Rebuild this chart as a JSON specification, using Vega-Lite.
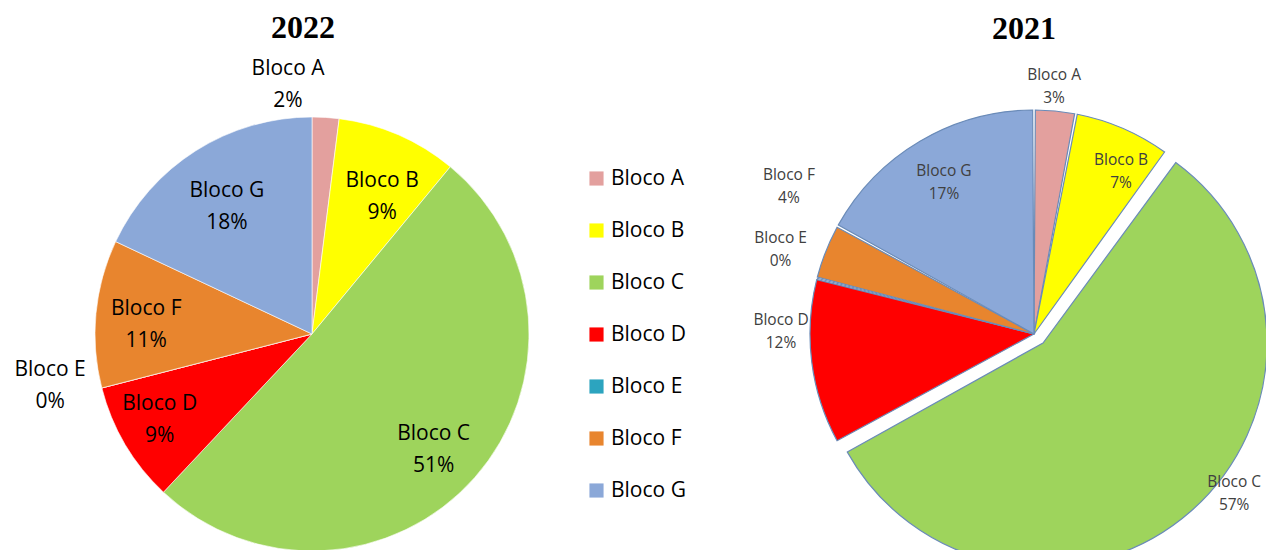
{
  "$schema": "https://vega.github.io/schema/vega-lite/v6.json",
  "background": "white",
  "padding": {"top": 12, "left": 0, "right": 0, "bottom": 0},
  "config": {"view": {"stroke": null}, "font": "Open Sans"},
  "datasets": {
    "y2022": [
      {"bloco": "Bloco A", "pct": 2},
      {"bloco": "Bloco B", "pct": 9},
      {"bloco": "Bloco C", "pct": 51},
      {"bloco": "Bloco D", "pct": 9},
      {"bloco": "Bloco E", "pct": 0},
      {"bloco": "Bloco F", "pct": 11},
      {"bloco": "Bloco G", "pct": 18}
    ],
    "y2021": [
      {"bloco": "Bloco A", "pct": 3},
      {"bloco": "Bloco B", "pct": 7},
      {"bloco": "Bloco C", "pct": 57},
      {"bloco": "Bloco D", "pct": 12},
      {"bloco": "Bloco E", "pct": 0},
      {"bloco": "Bloco F", "pct": 4},
      {"bloco": "Bloco G", "pct": 17}
    ]
  },
  "spacing": 129,
  "resolve": {"scale": {"color": "shared", "theta": "independent"}},
  "hconcat": [
    {
      "width": 624,
      "height": 432,
      "title": {"text": "2022", "font": "Liberation Serif", "fontSize": 32, "fontWeight": "bold", "color": "black", "offset": 13, "dx": -9},
      "data": {"name": "y2022"},
      "transform": [
        {"stack": "pct", "groupby": [], "sort": [{"field": "bloco", "order": "ascending"}], "as": ["t0", "t1"]},
        {"calculate": "datum.bloco + '\\n' + datum.pct + '%'", "as": "label"}
      ],
      "encoding": {
        "theta": {"field": "t0", "type": "quantitative", "scale": {"domain": [0, 100]}}
      },
      "layer": [
        {"mark": {"type": "arc", "outerRadius": 217, "stroke": "#ffffff", "strokeWidth": 0.6},
         "encoding": {
           "theta2": {"field": "t1"},
           "color": {
             "field": "bloco", "type": "nominal",
             "scale": {"domain": ["Bloco A", "Bloco B", "Bloco C", "Bloco D", "Bloco E", "Bloco F", "Bloco G"],
                       "range": ["#E3A09E", "#FFFF00", "#9ED45C", "#FF0000", "#2CA4BF", "#E8852E", "#8BA8D8"]},
             "legend": {"title": null, "orient": "none", "legendX": 586, "legendY": 50, "symbolType": "square", "symbolSize": 200, "symbolStrokeWidth": 0, "symbolOpacity": 1, "labelFontSize": 21, "labelFont": "Open Sans", "labelColor": "black", "rowPadding": 30, "labelOffset": 4}
           }
         }},
        {"transform": [{"filter": "datum.bloco == 'Bloco A'"}],
         "mark": {"type": "text", "radius": 250, "thetaOffset": -0.096, "dy": -16, "fontSize": 21, "lineBreak": "\n", "lineHeight": 32, "baseline": "middle", "color": "black"},
         "encoding": {"text": {"field": "label"}}},
        {"transform": [{"filter": "datum.bloco == 'Bloco B'"}],
         "mark": {"type": "text", "radius": 154, "thetaOffset": 0.347, "dy": -16, "fontSize": 21, "lineBreak": "\n", "lineHeight": 32, "baseline": "middle", "color": "black"},
         "encoding": {"text": {"field": "label"}}},
        {"transform": [{"filter": "datum.bloco == 'Bloco C'"}],
         "mark": {"type": "text", "radius": 168, "thetaOffset": 1.641, "dy": -16, "fontSize": 21, "lineBreak": "\n", "lineHeight": 32, "baseline": "middle", "color": "black"},
         "encoding": {"text": {"field": "label"}}},
        {"transform": [{"filter": "datum.bloco == 'Bloco D'"}],
         "mark": {"type": "text", "radius": 175, "thetaOffset": 0.302, "dy": -16, "fontSize": 21, "lineBreak": "\n", "lineHeight": 32, "baseline": "middle", "color": "black"},
         "encoding": {"text": {"field": "label"}}},
        {"transform": [{"filter": "datum.bloco == 'Bloco E'"}],
         "mark": {"type": "text", "radius": 267, "thetaOffset": 0.056, "dy": -16, "fontSize": 21, "lineBreak": "\n", "lineHeight": 32, "baseline": "middle", "color": "black"},
         "encoding": {"text": {"field": "label"}}},
        {"transform": [{"filter": "datum.bloco == 'Bloco F'"}],
         "mark": {"type": "text", "radius": 166, "thetaOffset": 0.306, "dy": -16, "fontSize": 21, "lineBreak": "\n", "lineHeight": 32, "baseline": "middle", "color": "black"},
         "encoding": {"text": {"field": "label"}}},
        {"transform": [{"filter": "datum.bloco == 'Bloco G'"}],
         "mark": {"type": "text", "radius": 153, "thetaOffset": 0.541, "dy": -16, "fontSize": 21, "lineBreak": "\n", "lineHeight": 32, "baseline": "middle", "color": "black"},
         "encoding": {"text": {"field": "label"}}}
      ]
    },
    {
      "width": 462,
      "height": 432,
      "title": {"text": "2021", "font": "Liberation Serif", "fontSize": 32, "fontWeight": "bold", "color": "black", "offset": 13, "dx": -10, "dy": -9},
      "data": {"name": "y2021"},
      "transform": [
        {"stack": "pct", "groupby": [], "sort": [{"field": "bloco", "order": "ascending"}], "as": ["t0", "t1"]},
        {"calculate": "datum.bloco + '\\n' + datum.pct + '%'", "as": "label"}
      ],
      "encoding": {
        "theta": {"field": "t0", "type": "quantitative", "scale": {"domain": [0, 100]}}
      },
      "layer": [
        {"transform": [{"filter": "datum.bloco != 'Bloco C'"}],
         "mark": {"type": "arc", "outerRadius": 224, "stroke": "#6A8BB8", "strokeWidth": 1.2, "padAngle": 0.012},
         "encoding": {
           "theta2": {"field": "t1"},
           "color": {
             "field": "bloco", "type": "nominal",
             "scale": {"domain": ["Bloco A", "Bloco B", "Bloco C", "Bloco D", "Bloco E", "Bloco F", "Bloco G"],
                       "range": ["#E3A09E", "#FFFF00", "#9ED45C", "#FF0000", "#2CA4BF", "#E8852E", "#8BA8D8"]},
             "legend": {"title": null, "orient": "none", "legendX": 586, "legendY": 50, "symbolType": "square", "symbolSize": 200, "symbolStrokeWidth": 0, "symbolOpacity": 1, "labelFontSize": 21, "labelFont": "Open Sans", "labelColor": "black", "rowPadding": 30, "labelOffset": 4}
           }
         }},
        {"transform": [{"filter": "datum.bloco == 'Bloco C'"}],
         "mark": {"type": "arc", "outerRadius": 224, "stroke": "#6A8BB8", "strokeWidth": 1.2, "padAngle": 0.012, "xOffset": 9, "yOffset": 9},
         "encoding": {
           "theta2": {"field": "t1"},
           "color": {"field": "bloco", "type": "nominal"}
         }},
        {"transform": [{"filter": "datum.bloco == 'Bloco A'"}],
         "mark": {"type": "text", "radius": 248, "thetaOffset": 0.081, "dy": -11.5, "fontSize": 15.5, "lineBreak": "\n", "lineHeight": 23, "baseline": "middle", "color": "#404040"},
         "encoding": {"text": {"field": "label"}}},
        {"transform": [{"filter": "datum.bloco == 'Bloco B'"}],
         "mark": {"type": "text", "radius": 184, "thetaOffset": 0.304, "dy": -11.5, "fontSize": 15.5, "lineBreak": "\n", "lineHeight": 23, "baseline": "middle", "color": "#404040"},
         "encoding": {"text": {"field": "label"}}},
        {"transform": [{"filter": "datum.bloco == 'Bloco C'"}],
         "mark": {"type": "text", "radius": 243, "thetaOffset": 1.608, "xOffset": 9, "yOffset": 9, "dy": -11.5, "fontSize": 15.5, "lineBreak": "\n", "lineHeight": 23, "baseline": "middle", "color": "#404040"},
         "encoding": {"text": {"field": "label"}}},
        {"transform": [{"filter": "datum.bloco == 'Bloco D'"}],
         "mark": {"type": "text", "radius": 253, "thetaOffset": 0.514, "dy": -11.5, "fontSize": 15.5, "lineBreak": "\n", "lineHeight": 23, "baseline": "middle", "color": "#404040"},
         "encoding": {"text": {"field": "label"}}},
        {"transform": [{"filter": "datum.bloco == 'Bloco E'"}],
         "mark": {"type": "text", "radius": 267, "thetaOffset": 0.069, "dy": -11.5, "fontSize": 15.5, "lineBreak": "\n", "lineHeight": 23, "baseline": "middle", "color": "#404040"},
         "encoding": {"text": {"field": "label"}}},
        {"transform": [{"filter": "datum.bloco == 'Bloco F'"}],
         "mark": {"type": "text", "radius": 286, "thetaOffset": 0.29, "dy": -11.5, "fontSize": 15.5, "lineBreak": "\n", "lineHeight": 23, "baseline": "middle", "color": "#404040"},
         "encoding": {"text": {"field": "label"}}},
        {"transform": [{"filter": "datum.bloco == 'Bloco G'"}],
         "mark": {"type": "text", "radius": 176, "thetaOffset": 0.531, "dy": -11.5, "fontSize": 15.5, "lineBreak": "\n", "lineHeight": 23, "baseline": "middle", "color": "#404040"},
         "encoding": {"text": {"field": "label"}}}
      ]
    }
  ]
}
